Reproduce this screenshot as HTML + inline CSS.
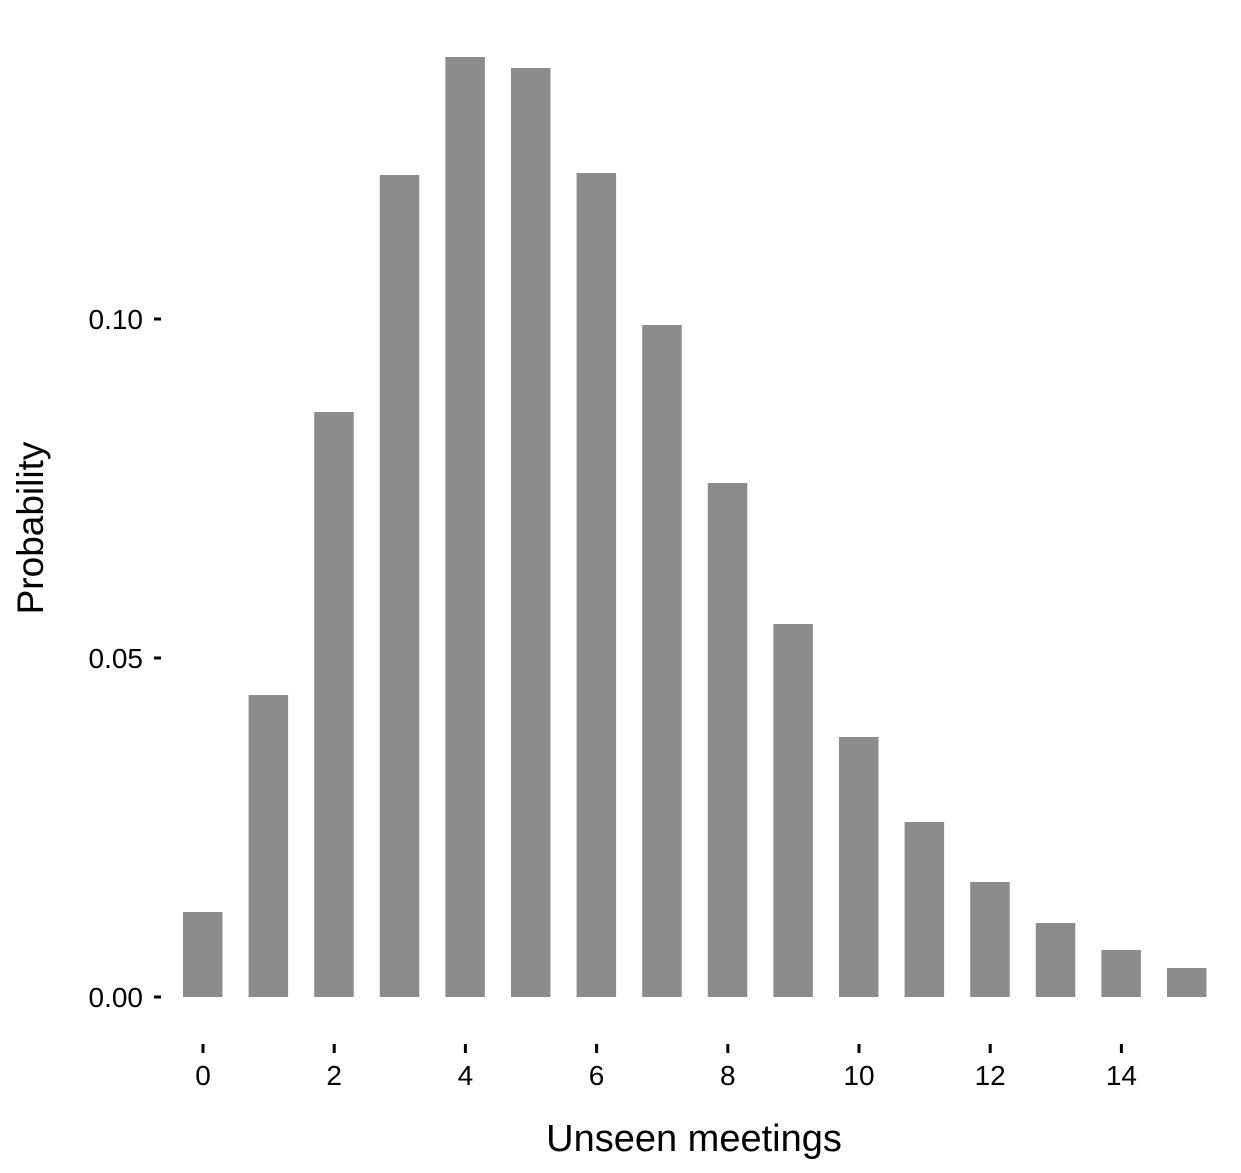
<!DOCTYPE html>
<html><head><style>body{margin:0;background:#fff}</style></head><body>
<svg width="1241" height="1168" xmlns="http://www.w3.org/2000/svg" font-family="Liberation Sans, Arial, sans-serif">
<rect width="1241" height="1168" fill="#fff"/>
<g fill="#8c8c8c">
<rect x="183" y="912" width="39.5" height="85"/>
<rect x="248.6" y="695" width="39.5" height="302"/>
<rect x="314.2" y="412" width="39.5" height="585"/>
<rect x="379.8" y="175" width="39.5" height="822"/>
<rect x="445.4" y="57" width="39.5" height="940"/>
<rect x="511" y="68" width="39.5" height="929"/>
<rect x="576.6" y="173" width="39.5" height="824"/>
<rect x="642.2" y="325" width="39.5" height="672"/>
<rect x="707.8" y="483" width="39.5" height="514"/>
<rect x="773.4" y="624" width="39.5" height="373"/>
<rect x="839" y="737" width="39.5" height="260"/>
<rect x="904.6" y="822" width="39.5" height="175"/>
<rect x="970.2" y="882" width="39.5" height="115"/>
<rect x="1035.8" y="923" width="39.5" height="74"/>
<rect x="1101.4" y="950" width="39.5" height="47"/>
<rect x="1167" y="968" width="39.5" height="29"/>
</g>
<g stroke="#000" stroke-width="3">
<line x1="154" y1="997" x2="161" y2="997"/>
<line x1="154" y1="658" x2="161" y2="658"/>
<line x1="154" y1="319" x2="161" y2="319"/>
<line x1="203" y1="1044" x2="203" y2="1053"/>
<line x1="334.2" y1="1044" x2="334.2" y2="1053"/>
<line x1="465.4" y1="1044" x2="465.4" y2="1053"/>
<line x1="596.6" y1="1044" x2="596.6" y2="1053"/>
<line x1="727.8" y1="1044" x2="727.8" y2="1053"/>
<line x1="859" y1="1044" x2="859" y2="1053"/>
<line x1="990.2" y1="1044" x2="990.2" y2="1053"/>
<line x1="1121.4" y1="1044" x2="1121.4" y2="1053"/>
</g>
<g font-size="28" text-anchor="end" fill="#000">
<text x="143" y="1007">0.00</text>
<text x="143" y="668">0.05</text>
<text x="143" y="329">0.10</text>
</g>
<g font-size="28" text-anchor="middle" fill="#000">
<text x="203" y="1085">0</text>
<text x="334.2" y="1085">2</text>
<text x="465.4" y="1085">4</text>
<text x="596.6" y="1085">6</text>
<text x="727.8" y="1085">8</text>
<text x="859" y="1085">10</text>
<text x="990.2" y="1085">12</text>
<text x="1121.4" y="1085">14</text>
</g>
<text x="694" y="1151" font-size="38" text-anchor="middle">Unseen meetings</text>
<text transform="translate(43,528) rotate(-90)" font-size="37" text-anchor="middle">Probability</text>
</svg>
</body></html>
